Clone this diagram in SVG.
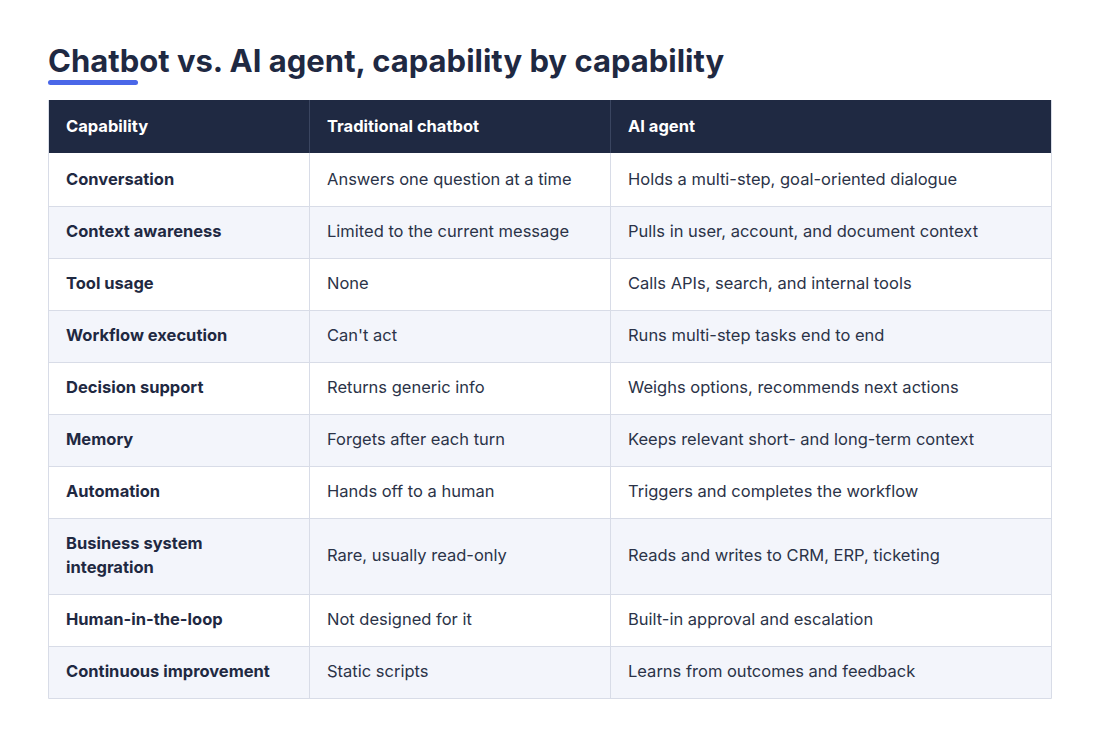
<svg xmlns="http://www.w3.org/2000/svg" width="1100" height="738" viewBox="0 0 1100 738">
<style>
text{font-family:"Inter","Liberation Sans",sans-serif;fill:#1f2942}
.t{font-size:31px;font-weight:700}
.h{font-size:16.5px;font-weight:700;fill:#fff}
.c{font-size:16.5px;font-weight:700}
.v{font-size:16.5px;fill:#2b3348}
.w{fill:#fff}.a{fill:#f3f5fb}
.ln{stroke:#d8dce7;stroke-width:1}
</style>
<rect width="1100" height="738" fill="#fff"/>
<g id="title"><text class="t" x="48" y="72">Chatbot vs. AI agent, capability by capability</text>
<rect x="48" y="80" width="90" height="5" rx="2.5" fill="#4a67e8"/></g>
<g id="header"><rect x="48" y="100" width="1004" height="53" fill="#1f2942"/>
<text class="h" x="66" y="132">Capability</text><text class="h" x="327" y="132">Traditional chatbot</text><text class="h" x="628" y="132">AI agent</text></g>
<g id="rows">
<rect class="w" x="48" y="153" width="1004" height="53"/>
<rect class="a" x="48" y="206" width="1004" height="52"/>
<rect class="w" x="48" y="258" width="1004" height="52"/>
<rect class="a" x="48" y="310" width="1004" height="52"/>
<rect class="w" x="48" y="362" width="1004" height="52"/>
<rect class="a" x="48" y="414" width="1004" height="52"/>
<rect class="w" x="48" y="466" width="1004" height="52"/>
<rect class="a" x="48" y="518" width="1004" height="76"/>
<rect class="w" x="48" y="594" width="1004" height="52"/>
<rect class="a" x="48" y="646" width="1004" height="52"/>
</g>
<g id="grid" fill="none">
<path class="ln" d="M48.5 100V698.5H1051.5V100M309.5 100V698M610.5 100V698M48 206.5H1052M48 258.5H1052M48 310.5H1052M48 362.5H1052M48 414.5H1052M48 466.5H1052M48 518.5H1052M48 594.5H1052M48 646.5H1052"/>
<path d="M309.5 100V153M610.5 100V153" stroke="#3a4560"/>
</g>
<g id="text">
<text class="c" x="66" y="185">Conversation</text><text class="v" x="327" y="185">Answers one question at a time</text><text class="v" x="628" y="185">Holds a multi-step, goal-oriented dialogue</text>
<text class="c" x="66" y="237">Context awareness</text><text class="v" x="327" y="237">Limited to the current message</text><text class="v" x="628" y="237">Pulls in user, account, and document context</text>
<text class="c" x="66" y="289">Tool usage</text><text class="v" x="327" y="289">None</text><text class="v" x="628" y="289">Calls APIs, search, and internal tools</text>
<text class="c" x="66" y="341">Workflow execution</text><text class="v" x="327" y="341">Can't act</text><text class="v" x="628" y="341">Runs multi-step tasks end to end</text>
<text class="c" x="66" y="393">Decision support</text><text class="v" x="327" y="393">Returns generic info</text><text class="v" x="628" y="393">Weighs options, recommends next actions</text>
<text class="c" x="66" y="445">Memory</text><text class="v" x="327" y="445">Forgets after each turn</text><text class="v" x="628" y="445">Keeps relevant short- and long-term context</text>
<text class="c" x="66" y="497">Automation</text><text class="v" x="327" y="497">Hands off to a human</text><text class="v" x="628" y="497">Triggers and completes the workflow</text>
<text class="c" x="66" y="549">Business system</text><text class="c" x="66" y="573">integration</text><text class="v" x="327" y="561">Rare, usually read-only</text><text class="v" x="628" y="561">Reads and writes to CRM, ERP, ticketing</text>
<text class="c" x="66" y="625">Human-in-the-loop</text><text class="v" x="327" y="625">Not designed for it</text><text class="v" x="628" y="625">Built-in approval and escalation</text>
<text class="c" x="66" y="677">Continuous improvement</text><text class="v" x="327" y="677">Static scripts</text><text class="v" x="628" y="677">Learns from outcomes and feedback</text>
</g>
</svg>
